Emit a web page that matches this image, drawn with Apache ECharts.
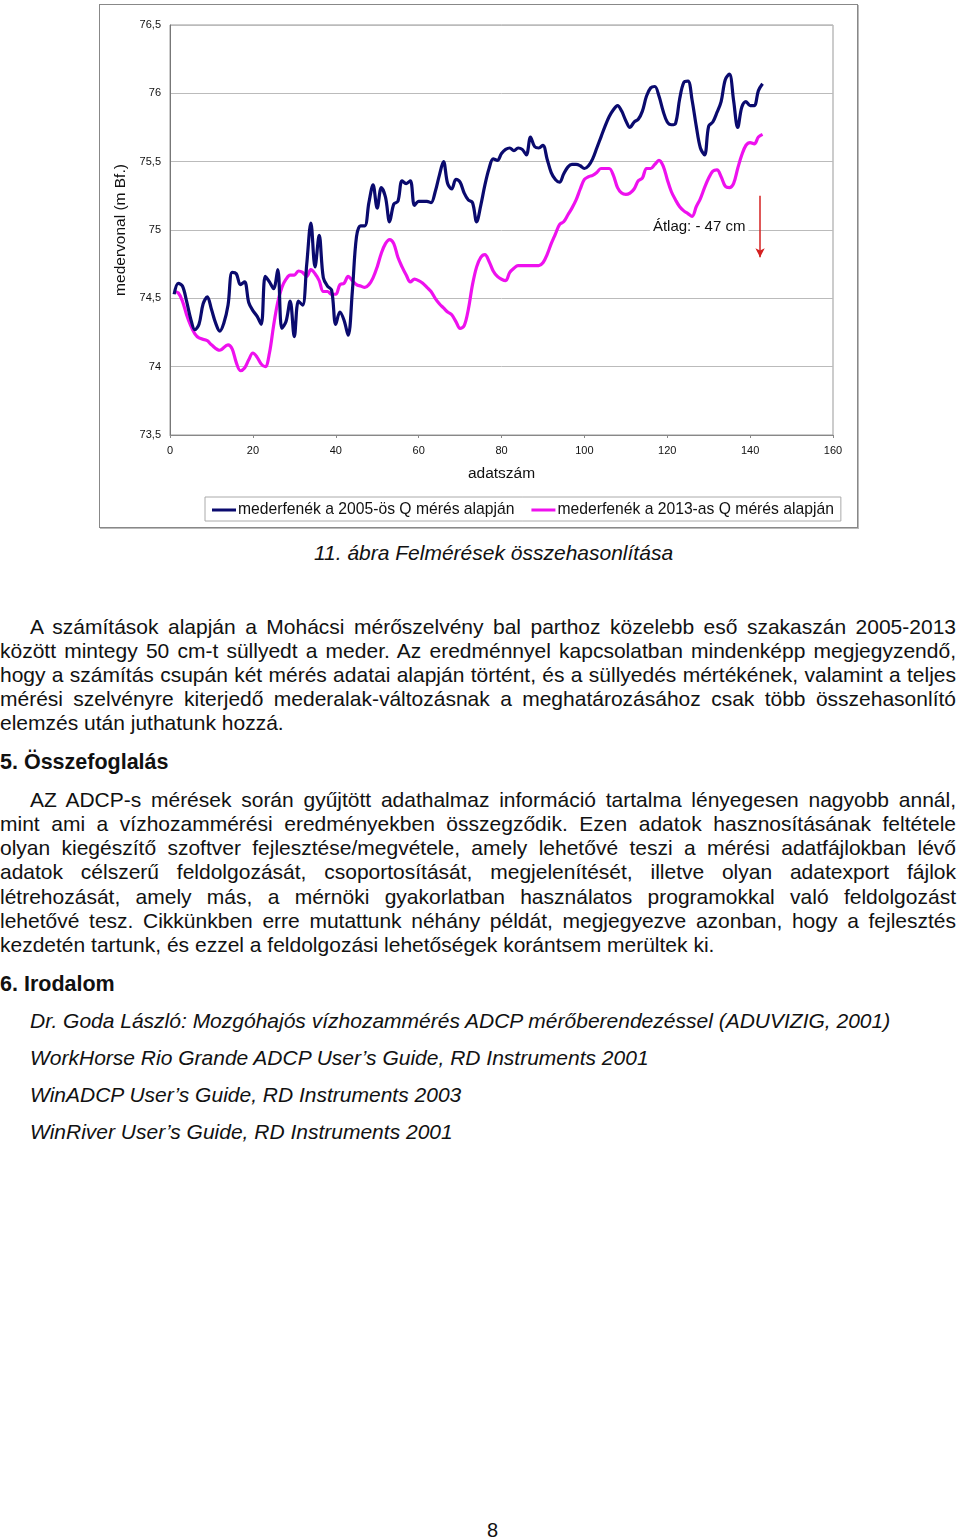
<!DOCTYPE html>
<html>
<head>
<meta charset="utf-8">
<script src="https://cdn.jsdelivr.net/npm/echarts@6/dist/echarts.min.js"></script>
<style>
  html, body { margin: 0; padding: 0; background: #fff; }
  body { width: 960px; height: 1539px; position: relative; overflow: hidden;
         font-family: "Liberation Sans", Arial, sans-serif; color: #111; }
  #frame { position: absolute; left: 99px; top: 4px; width: 757px; height: 522px;
           border: 1px solid #888; box-shadow: 1px 1px 0 #bbb; }
  #chart { position: absolute; left: 0; top: 0; width: 960px; height: 540px; }
  .ln { position: absolute; left: 0; width: 956px; font-size: 21px; line-height: 24px;
        white-space: nowrap; }
  .j { text-align: justify; text-align-last: justify; }
  .ind { padding-left: 30px; width: 926px; }
  .h { font-weight: bold; font-size: 21.5px; }
  .ref { position: absolute; left: 30px; font-size: 21px; line-height: 24px;
         font-style: italic; white-space: nowrap; }
  #cap { position: absolute; left: 0; width: 987px; top: 541px; text-align: center;
         font-style: italic; font-size: 21px; line-height: 24px; }
  #pg { position: absolute; left: 0; width: 985px; top: 1518px; text-align: center;
        font-size: 20px; line-height: 24px; }
</style>
</head>
<body>
<div id="frame"></div>
<div id="chart"></div>
<div id="cap">11. ábra Felmérések összehasonlítása</div>

<div class="ln j ind" style="top:615px">A számítások alapján a Mohácsi mérőszelvény bal parthoz közelebb eső szakaszán 2005-2013</div>
<div class="ln j" style="top:639px">között mintegy 50 cm-t süllyedt a meder. Az eredménnyel kapcsolatban mindenképp megjegyzendő,</div>
<div class="ln j" style="top:663px">hogy a számítás csupán két mérés adatai alapján történt, és a süllyedés mértékének, valamint a teljes</div>
<div class="ln j" style="top:687px">mérési szelvényre kiterjedő mederalak-változásnak a meghatározásához csak több összehasonlító</div>
<div class="ln" style="top:711px">elemzés után juthatunk hozzá.</div>

<div class="ln h" style="top:750px">5. Összefoglalás</div>

<div class="ln j ind" style="top:788px">AZ ADCP-s mérések során gyűjtött adathalmaz információ tartalma lényegesen nagyobb annál,</div>
<div class="ln j" style="top:812px">mint ami a vízhozammérési eredményekben összegződik. Ezen adatok hasznosításának feltétele</div>
<div class="ln j" style="top:836px">olyan kiegészítő szoftver fejlesztése/megvétele, amely lehetővé teszi a mérési adatfájlokban lévő</div>
<div class="ln j" style="top:860px">adatok célszerű feldolgozását, csoportosítását, megjelenítését, illetve olyan adatexport fájlok</div>
<div class="ln j" style="top:885px">létrehozását, amely más, a mérnöki gyakorlatban használatos programokkal való feldolgozást</div>
<div class="ln j" style="top:909px">lehetővé tesz. Cikkünkben erre mutattunk néhány példát, megjegyezve azonban, hogy a fejlesztés</div>
<div class="ln" style="top:933px">kezdetén tartunk, és ezzel a feldolgozási lehetőségek korántsem merültek ki.</div>

<div class="ln h" style="top:972px">6. Irodalom</div>

<div class="ref" style="top:1009px">Dr. Goda László: Mozgóhajós vízhozammérés ADCP mérőberendezéssel (ADUVIZIG, 2001)</div>
<div class="ref" style="top:1046px">WorkHorse Rio Grande ADCP User’s Guide, RD Instruments 2001</div>
<div class="ref" style="top:1083px">WinADCP User’s Guide, RD Instruments 2003</div>
<div class="ref" style="top:1120px">WinRiver User’s Guide, RD Instruments 2001</div>

<div id="pg">8</div>

<script>
// --- data ---
const seriesNames = ['mederfenék a 2005-ös Q mérés alapján', 'mederfenék a 2013-as Q mérés alapján'];
const xTicks = [0, 20, 40, 60, 80, 100, 120, 140, 160];
const yTicks = ['73,5', '74', '74,5', '75', '75,5', '76', '76,5'];
// 2005 values at adatszám 1..143
const y2005 = [
  74.53,74.61,74.59,74.48,74.35,74.27,74.31,74.46,74.51,74.42,
  74.32,74.26,74.32,74.45,74.69,74.68,74.60,74.62,74.47,74.41,
  74.37,74.31,74.66,74.62,74.57,74.71,74.28,74.33,74.48,74.22,
  74.48,74.45,74.75,75.05,74.73,74.96,74.65,74.59,74.56,74.31,
  74.40,74.34,74.23,74.55,74.95,75.03,75.03,75.20,75.33,75.16,
  75.31,75.24,75.06,75.19,75.21,75.36,75.34,75.36,75.18,75.21,
  75.21,75.21,75.20,75.28,75.40,75.50,75.34,75.30,75.37,75.35,
  75.27,75.22,75.20,75.06,75.18,75.33,75.45,75.52,75.51,75.56,
  75.59,75.60,75.58,75.60,75.59,75.55,75.68,75.61,75.60,75.62,
  75.52,75.42,75.37,75.35,75.41,75.46,75.48,75.48,75.47,75.45,
  75.47,75.52,75.60,75.68,75.76,75.83,75.88,75.91,75.87,75.80,
  75.75,75.79,75.81,75.87,75.98,76.04,76.05,75.98,75.87,75.79,
  75.77,75.78,75.96,76.08,76.09,75.95,75.76,75.60,75.55,75.76,
  75.79,75.86,75.94,76.10,76.14,75.95,75.75,75.90,75.94,75.91,
  75.91,76.02,76.07
];
// 2013 values as [adatszám, value]
const y2013 = [
  [1,74.55],[2,74.54],[3,74.48],[4,74.38],[5,74.30],[6,74.24],[7,74.21],[9,74.19],[10,74.16],[12,74.12],
  [14,74.16],[15,74.13],[16,74.03],[17,73.97],[18,73.99],[19,74.05],[20,74.10],[21,74.07],[22,74.02],[23,74.00],
  [24,74.10],[25,74.30],[26,74.47],[27,74.58],[28,74.64],[29,74.67],[30,74.67],[31,74.70],[32,74.69],[33,74.66],
  [34,74.71],[35,74.68],[36,74.63],[37,74.55],[38,74.55],[39,74.53],[40,74.53],[41,74.60],[42,74.61],[43,74.66],
  [44,74.63],[45,74.60],[46,74.59],[47,74.58],[48,74.60],[49,74.65],[50,74.73],[51,74.83],[52,74.90],[53,74.93],
  [54,74.90],[55,74.80],[56,74.73],[57,74.67],[58,74.62],[59,74.64],[60,74.63],[61,74.61],[62,74.58],[63,74.55],
  [64,74.50],[65,74.46],[66,74.43],[67,74.40],[68,74.38],[69,74.33],[70,74.28],[71,74.30],[72,74.42],[73,74.60],
  [74,74.73],[75,74.80],[76,74.82],[77,74.77],[78,74.70],[79,74.66],[80,74.64],[81,74.63],[82,74.69],[83,74.72],
  [84,74.74],[86,74.74],[88,74.74],[89,74.74],[90,74.76],[91,74.82],[92,74.90],[93,74.97],[94,75.04],[95,75.06],
  [96,75.11],[97,75.16],[98,75.22],[99,75.30],[100,75.37],[101,75.39],[102,75.40],[103,75.42],[104,75.45],[105,75.45],
  [106,75.45],[107,75.40],[108,75.31],[109,75.27],[110,75.26],[111,75.27],[112,75.30],[113,75.36],[114,75.38],[115,75.45],
  [116,75.45],[117,75.48],[118,75.51],[119,75.47],[120,75.37],[121,75.28],[122,75.22],[123,75.17],[124,75.14],[125,75.12],
  [126,75.10],[127,75.17],[128,75.23],[129,75.31],[130,75.38],[131,75.43],[132,75.44],[133,75.39],[134,75.32],[135,75.31],
  [136,75.34],[137,75.45],[138,75.55],[139,75.62],[140,75.64],[141,75.63],[142,75.68],[143,75.70]
];
const annotationText = 'Átlag: - 47 cm';
const annotationPos = [127.7, 75.02];
const arrowFrom = [142.4, 75.25];
const arrowTo = [142.4, 74.80];

// --- chart ---
const chart = echarts.init(document.getElementById('chart'), null, { renderer: 'canvas' });
const font = '"Liberation Sans", Arial, sans-serif';
chart.setOption({
  animation: false,
  textStyle: { fontFamily: font },
  grid: { left: 170, right: 127, top: 25, bottom: 105, show: true, borderColor: '#999', borderWidth: 1 },
  legend: {
    left: 205, top: 497, width: 700,
    itemWidth: 24, itemHeight: 3, itemGap: 17,
    padding: [5, 7, 3, 7],
    borderColor: '#aaa', borderWidth: 1,
    textStyle: { fontSize: 15.7, color: '#111', fontFamily: font, padding: [0, 0, 0, -3] },
    icon: 'rect',
    data: seriesNames
  },
  xAxis: {
    type: 'value', min: xTicks[0], max: xTicks[xTicks.length - 1], interval: 20,
    name: 'adatszám', nameLocation: 'middle', nameGap: 31,
    nameTextStyle: { fontSize: 15.5, color: '#111' },
    axisLine: { show: true, onZero: false, lineStyle: { color: '#888' } },
    axisTick: { show: true, length: 3, lineStyle: { color: '#888' } },
    axisLabel: { fontSize: 11, color: '#111', margin: 10 },
    splitLine: { show: false }
  },
  yAxis: {
    type: 'value', min: 73.5, max: 76.5, interval: 0.5,
    name: 'medervonal (m Bf.)', nameLocation: 'middle', nameGap: 38,
    nameTextStyle: { fontSize: 15.5, color: '#111' },
    axisLine: { show: true, lineStyle: { color: '#777' } },
    axisTick: { show: false },
    axisLabel: { fontSize: 11, color: '#111', margin: 9,
      formatter: (v) => yTicks[Math.round((v - 73.5) / 0.5)] },
    splitLine: { show: true, lineStyle: { color: '#bbb', width: 1 } }
  },
  series: [
    {
      name: seriesNames[0], type: 'line', smooth: 0.35, showSymbol: false, symbol: 'none',
      data: y2005.map((v, i) => [i + 1, v]),
      lineStyle: { color: '#0a0a6e', width: 3.2 }, itemStyle: { color: '#0a0a6e' },
      z: 3
    },
    {
      name: seriesNames[1], type: 'line', smooth: 0.35, showSymbol: false, symbol: 'none',
      data: y2013,
      lineStyle: { color: '#ee11ee', width: 3.2 }, itemStyle: { color: '#ee11ee' },
      z: 2,
      markPoint: {
        symbol: 'rect', symbolSize: 0, silent: true,
        label: { show: true, position: 'inside', formatter: annotationText,
                 fontSize: 15, color: '#111', backgroundColor: '#fff', padding: [1, 3] },
        data: [{ coord: annotationPos }]
      },
      markLine: {
        silent: true, symbol: ['none', 'arrow'], symbolSize: [7, 9],
        label: { show: false },
        lineStyle: { color: '#d42020', width: 1.5, type: 'solid' },
        data: [[{ coord: arrowFrom }, { coord: arrowTo }]]
      }
    }
  ]
});
</script>
</body>
</html>
